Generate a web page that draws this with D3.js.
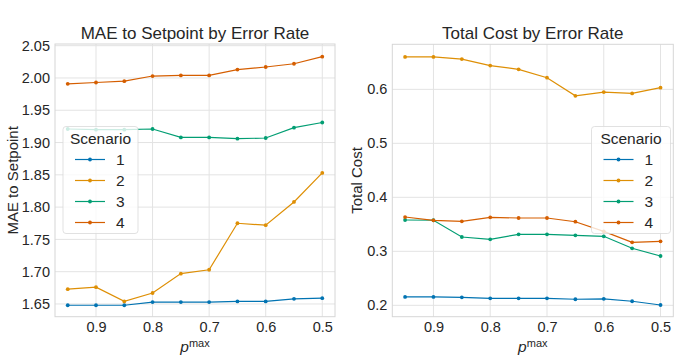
<!DOCTYPE html>
<html><head><meta charset="utf-8">
<script src="https://d3js.org/d3.v7.min.js"></script>
<style>
body{margin:0;background:#fff;}
text{font-family:"Liberation Sans", Arial, sans-serif;fill:#262626;}
</style></head>
<body><svg id="c" width="685" height="360"></svg>
<script>
const pmax = [0.95, 0.9, 0.85, 0.8, 0.75, 0.7, 0.65, 0.6, 0.55, 0.5];
const scenarios = ["1", "2", "3", "4"];
const colors = ["#0173b2", "#de8f05", "#029e73", "#d55e00"];
const xTicks = [0.9, 0.8, 0.7, 0.6, 0.5];

// MAE to Setpoint
const mae1 = [1.648, 1.648, 1.648, 1.653, 1.653, 1.653, 1.654, 1.654, 1.658, 1.659];
const mae2 = [1.673, 1.676, 1.654, 1.667, 1.697, 1.703, 1.775, 1.772, 1.808, 1.853];
const mae3 = [1.921, 1.920, 1.920, 1.921, 1.908, 1.908, 1.906, 1.907, 1.923, 1.931];
const mae4 = [1.991, 1.993, 1.995, 2.003, 2.004, 2.004, 2.013, 2.017, 2.022, 2.033];
const maeTicks = [1.65, 1.70, 1.75, 1.80, 1.85, 1.90, 1.95, 2.00, 2.05];

// Total Cost
const cost1 = [0.2155, 0.2155, 0.2148, 0.213, 0.213, 0.213, 0.2112, 0.212, 0.2075, 0.2006];
const cost2 = [0.660, 0.660, 0.656, 0.644, 0.637, 0.6215, 0.588, 0.595, 0.5925, 0.603];
const cost3 = [0.358, 0.3575, 0.3265, 0.3222, 0.3315, 0.3315, 0.3296, 0.3278, 0.3056, 0.2913];
const cost4 = [0.3635, 0.3574, 0.3556, 0.363, 0.3617, 0.3617, 0.3548, 0.337, 0.3167, 0.3185];
const costTicks = [0.2, 0.3, 0.4, 0.5, 0.6];

const svg = d3.select("#c");

function panel(o) {
  const g = svg.append("g");
  const x = d3.scaleLinear().domain([0.9725, 0.4775]).range([o.x0, o.x1]);
  const y = d3.scaleLinear().domain(o.yDomain).range([o.y1, o.y0]);

  // grid
  g.append("g").selectAll("line.v").data(xTicks).join("line")
    .attr("x1", d => x(d)).attr("x2", d => x(d)).attr("y1", o.y0).attr("y2", o.y1)
    .attr("stroke", "#e3e3e3").attr("stroke-width", 1);
  g.append("g").selectAll("line.h").data(o.yTicks).join("line")
    .attr("y1", d => y(d)).attr("y2", d => y(d)).attr("x1", o.x0).attr("x2", o.x1)
    .attr("stroke", "#e3e3e3").attr("stroke-width", 1);
  g.append("rect").attr("x", o.x0).attr("y", o.y0).attr("width", o.x1 - o.x0).attr("height", o.y1 - o.y0)
    .attr("fill", "none").attr("stroke", "#d6d6d6").attr("stroke-width", 1);

  // axes via d3 axis
  const xa = g.append("g").attr("transform", `translate(0,${o.y1})`)
    .call(d3.axisBottom(x).tickValues(xTicks).tickSize(0).tickPadding(5).tickFormat(d3.format(".1f")));
  xa.select(".domain").remove();
  xa.selectAll("text").attr("font-size", 14.5).attr("fill", "#262626").attr("font-family", "Liberation Sans, Arial, sans-serif");
  const ya = g.append("g").attr("transform", `translate(${o.x0},0)`)
    .call(d3.axisLeft(y).tickValues(o.yTicks).tickSize(0).tickPadding(5).tickFormat(d3.format(o.fmt)));
  ya.select(".domain").remove();
  ya.selectAll("text").attr("font-size", 14.5).attr("fill", "#262626").attr("font-family", "Liberation Sans, Arial, sans-serif");

  // title
  g.append("text").attr("x", (o.x0 + o.x1) / 2).attr("y", o.y0 - 5).attr("text-anchor", "middle")
    .attr("font-size", 17).text(o.title);
  // y label
  g.append("text").attr("transform", `translate(${o.ylx},${(o.y0 + o.y1) / 2}) rotate(-90)`)
    .attr("text-anchor", "middle").attr("font-size", 15).text(o.ylabel);
  // x label
  const xl = g.append("text").attr("x", (o.x0 + o.x1) / 2).attr("y", 352).attr("text-anchor", "middle").attr("font-size", 15.5);
  xl.append("tspan").attr("font-style", "italic").text("p");
  xl.append("tspan").attr("dy", -5).attr("font-size", 11).text("max");

  // lines
  const line = d3.line().x((d, i) => x(pmax[i])).y(d => y(d));
  o.series.forEach((s, k) => {
    g.append("path").datum(s).attr("d", line).attr("fill", "none")
      .attr("stroke", colors[k]).attr("stroke-width", 1.2);
    g.append("g").selectAll("circle").data(s).join("circle")
      .attr("cx", (d, i) => x(pmax[i])).attr("cy", d => y(d)).attr("r", 1.9)
      .attr("fill", colors[k]);
  });

  // legend
  const L = o.legend;
  const lg = g.append("g");
  lg.append("rect").attr("x", L.x).attr("y", L.y).attr("width", L.w).attr("height", L.h)
    .attr("rx", 3).attr("fill", "#fff").attr("fill-opacity", 0.8).attr("stroke", "#d9d9d9").attr("stroke-width", 0.8);
  lg.append("text").attr("x", L.x + L.w / 2).attr("y", L.y + 17).attr("text-anchor", "middle")
    .attr("font-size", 15.5).text("Scenario");
  scenarios.forEach((s, k) => {
    const yy = L.y + 33 + k * 21;
    lg.append("line").attr("x1", L.x + 12).attr("x2", L.x + 42).attr("y1", yy).attr("y2", yy)
      .attr("stroke", colors[k]).attr("stroke-width", 1.2);
    lg.append("circle").attr("cx", L.x + 27).attr("cy", yy).attr("r", 1.9).attr("fill", colors[k]);
    lg.append("text").attr("x", L.x + 53).attr("y", yy + 5.5).attr("font-size", 15.5).text(s);
  });
}

panel({
  x0: 55, x1: 335, y0: 44, y1: 316.7,
  yDomain: [1.6303, 2.0526], yTicks: maeTicks, fmt: ".2f",
  title: "MAE to Setpoint by Error Rate", ylabel: "MAE to Setpoint", ylx: 18,
  series: [mae1, mae2, mae3, mae4],
  legend: {x: 63, y: 126.5, w: 75, h: 107}
});
panel({
  x0: 392.3, x1: 673.3, y0: 44.3, y1: 316.7,
  yDomain: [0.1789, 0.6834], yTicks: costTicks, fmt: ".1f",
  title: "Total Cost by Error Rate", ylabel: "Total Cost", ylx: 362,
  series: [cost1, cost2, cost3, cost4],
  legend: {x: 591.5, y: 126.5, w: 79, h: 107}
});
</script></body></html>
